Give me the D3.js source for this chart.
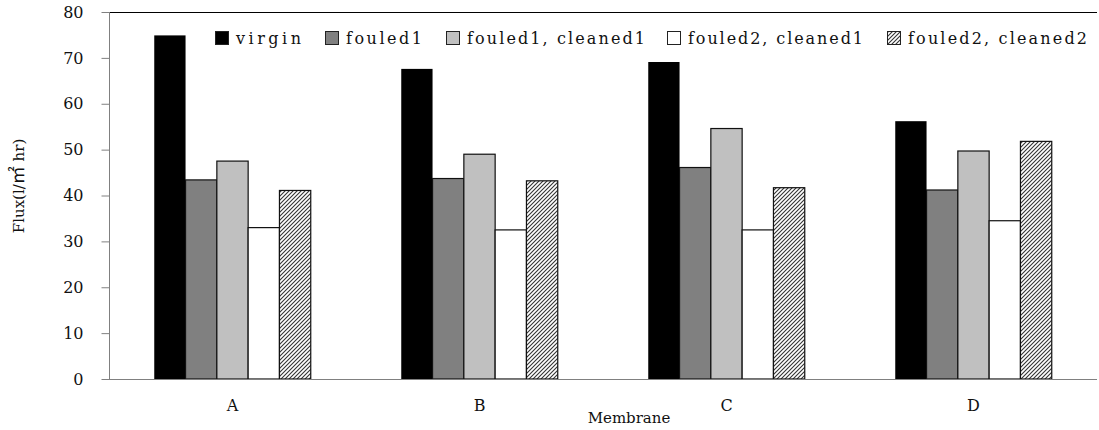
<!DOCTYPE html>
<html>
<head>
<meta charset="utf-8">
<script src="https://cdn.jsdelivr.net/npm/d3@7"></script>
<style>
  html, body { margin: 0; padding: 0; background: #fff; }
  svg { display: block; }
  text { font-family: "DejaVu Serif", "Liberation Serif", serif; fill: #111; }
</style>
</head>
<body>
<svg id="chart" width="1099" height="430"></svg>
<script>
const categories = ["A", "B", "C", "D"];
const seriesNames = ["virgin", "fouled1", "fouled1, cleaned1", "fouled2, cleaned1", "fouled2, cleaned2"];
const virgin          = [74.9, 67.6, 69.1, 56.2];
const fouled1         = [43.4, 43.7, 46.1, 41.2];
const fouled1Cleaned1 = [47.5, 49.0, 54.6, 49.7];
const fouled2Cleaned1 = [33.0, 32.5, 32.5, 34.5];
const fouled2Cleaned2 = [41.1, 43.2, 41.7, 51.8];
const yTicks = [0, 10, 20, 30, 40, 50, 60, 70, 80];
const xTitle = "Membrane";
const yTitleParts = ["Flux(l/", "㎡", " hr)"];

(function () {
const seriesValues = [virgin, fouled1, fouled1Cleaned1, fouled2Cleaned1, fouled2Cleaned2];
const fills = ["#000000", "#808080", "#c0c0c0", "#ffffff", "url(#hatch)"];
const legendX = [215, 325, 446, 667, 887];
const legendW = [65, 76, 178, 175, 179];

const svg = d3.select("#chart");
const defs = svg.append("defs");
const pat = defs.append("pattern").attr("id", "hatch").attr("patternUnits", "userSpaceOnUse")
  .attr("width", 4).attr("height", 4);
pat.append("rect").attr("width", 4).attr("height", 4).attr("fill", "#fff");
pat.append("path").attr("d", "M-1,1 l2,-2 M0,4 l4,-4 M3,5 l2,-2")
  .attr("stroke", "#333").attr("stroke-width", 1.1);

const pLeft = 109, pRight = 1097, pTop = 12, pBottom = 379;
const y = d3.scaleLinear().domain([0, 80]).range([pBottom, pTop]);
const x = d3.scaleBand().domain(categories).range([pLeft, pRight]).paddingInner(0).paddingOuter(0);
const groupW = 156.5;
const xs = d3.scaleBand().domain(seriesNames).range([0, groupW]);

// top border
svg.append("line").attr("x1", pLeft).attr("x2", pRight).attr("y1", pTop + 0.5).attr("y2", pTop + 0.5)
  .attr("stroke", "#000").attr("stroke-width", 1);

// bars
seriesNames.forEach((s, si) => {
  svg.append("g").selectAll("rect").data(categories).join("rect")
    .attr("x", c => x(c) + x.bandwidth() / 2 - groupW / 2 + xs(s))
    .attr("y", (c, i) => y(seriesValues[si][i]))
    .attr("width", xs.bandwidth())
    .attr("height", (c, i) => pBottom - y(seriesValues[si][i]))
    .attr("fill", fills[si])
    .attr("stroke", "#111")
    .attr("stroke-width", si === 0 ? 0 : 1.2);
});

// y axis
const yAxis = d3.axisLeft(y).tickValues(yTicks).tickSize(8).tickPadding(18).tickFormat(d3.format("d"));
const gy = svg.append("g").attr("transform", `translate(${pLeft + 0.5},0)`).call(yAxis);
gy.select(".domain").attr("stroke", "#808080").attr("d", `M0,${pTop}V${pBottom}`);
gy.selectAll(".tick line").attr("stroke", "#808080");
gy.selectAll(".tick text").attr("font-size", 16).attr("fill", "#111")
  .attr("font-family", "DejaVu Serif, serif");

// x axis
const xAxis = d3.axisBottom(x).tickSize(0).tickPadding(20);
const gx = svg.append("g").attr("transform", `translate(0,${pBottom + 0.5})`).call(xAxis);
gx.select(".domain").attr("stroke", "#808080").attr("d", `M${pLeft - 7},0H${pRight}`);
gx.selectAll(".tick text").attr("font-size", 16).attr("fill", "#111")
  .attr("font-family", "DejaVu Serif, serif");

// titles
svg.append("text").attr("x", 629).attr("y", 423).attr("text-anchor", "middle")
  .attr("font-size", 15).text(xTitle);
const yt = svg.append("text").attr("transform", "translate(24,186) rotate(-90)").attr("text-anchor", "middle")
  .attr("font-size", 15);
yt.append("tspan").text(yTitleParts[0]);
yt.append("tspan").attr("font-family", "Noto Sans CJK KR, Noto Sans CJK SC, sans-serif")
  .attr("font-size", 18).text(yTitleParts[1]);
yt.append("tspan").text(yTitleParts[2]);

// legend
const lg = svg.append("g");
seriesNames.forEach((s, i) => {
  lg.append("rect").attr("x", legendX[i] + 0.5).attr("y", 31.5).attr("width", 13).attr("height", 13)
    .attr("fill", fills[i]).attr("stroke", "#222").attr("stroke-width", 1);
  lg.append("text").attr("x", legendX[i] + 21).attr("y", 44).attr("font-size", 16)
    .attr("textLength", legendW[i]).attr("lengthAdjust", "spacing").text(s);
});
})();
</script>
</body>
</html>
